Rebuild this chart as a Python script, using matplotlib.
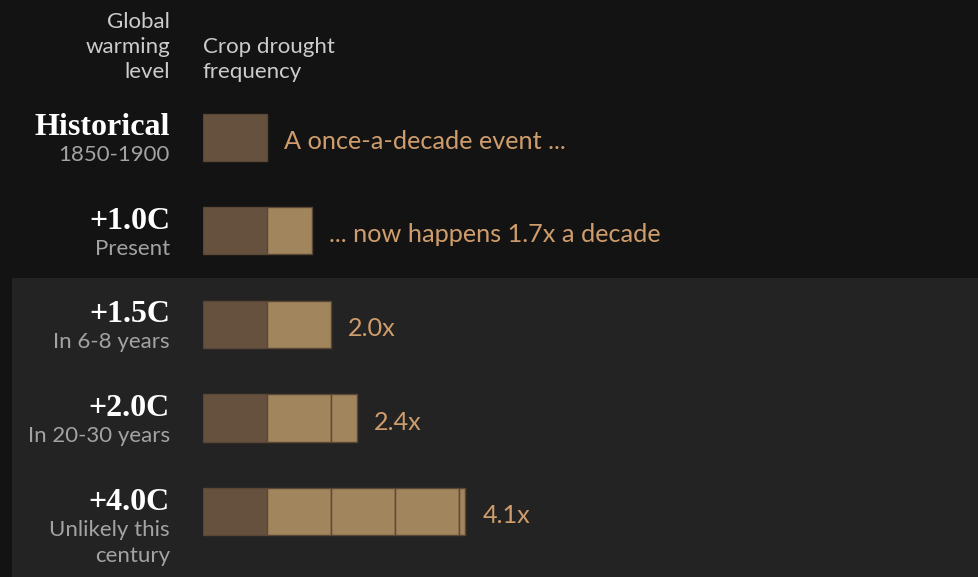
import matplotlib.pyplot as plt
from matplotlib.patches import Rectangle

# data
levels = ['Historical', '+1.0C', '+1.5C', '+2.0C', '+4.0C']
when = ['1850-1900', 'Present', 'In 6-8 years', 'In 20-30 years', 'Unlikely this\ncentury']
freq = [1.0, 1.7, 2.0, 2.4, 4.1]
notes = ['A once-a-decade event ...', '... now happens 1.7x a decade', '2.0x', '2.4x', '4.1x']

W, H = 979, 577
DARK_BG = '#131313'
PANEL_BG = '#232323'
BASE = '#66513f'
EXTRA = '#a1855d'
EDGE = '#5a4735'
NOTE = '#cf9d6c'
SANS = ['Lato', 'DejaVu Sans']
SERIF = ['Liberation Serif', 'DejaVu Serif']
PT = 72 / 100  # pixels -> points

fig = plt.figure(figsize=(W / 100, H / 100), dpi=100, facecolor=DARK_BG)
# lighter panel behind the future rows
fig.patches.append(Rectangle((12 / W, 0), 1, (H - 278) / H, transform=fig.transFigure,
                             facecolor=PANEL_BG, edgecolor='none', zorder=-1))

# bar axes: x in "times a decade", 64 px per unit, starting at x=203 px
unit = 64
row = 93.5
top = 137.5 - row / 2
ax = fig.add_axes([203 / W, (H - top - row * 5) / H, (W - 203) / W, row * 5 / H])
ax.set_zorder(1)
ax.set_xlim(0, (W - 203) / unit)
ax.set_ylim(4.5, -0.5)
ax.axis('off')
ax.patch.set_alpha(0)

bh = 47 / row
for i, v in enumerate(freq):
    ax.barh(i, min(v, 1), left=0, height=bh, color=BASE, edgecolor=EDGE, linewidth=1)
    k = 1
    while k < v:
        ax.barh(i, min(1, v - k), left=k, height=bh, color=EXTRA, edgecolor=EDGE, linewidth=1)
        k += 1
    ax.annotate(notes[i], xy=(v, i), xytext=(17 * PT, -4 * PT), textcoords='offset points',
                ha='left', va='center', color=NOTE, fontsize=18.2, family=SANS)
    ax.annotate(levels[i], xy=(0, i), xytext=(-33 * PT, 2 * PT), textcoords='offset points',
                ha='right', va='baseline', color='white', fontsize=23, fontweight='bold',
                family=SERIF, annotation_clip=False)
    for j, line in enumerate(when[i].split('\n')):
        ax.annotate(line, xy=(0, i), xytext=(-33 * PT, -(24 + 26 * j) * PT),
                    textcoords='offset points', ha='right', va='baseline',
                    color='#a3a3a3', fontsize=16, family=SANS, annotation_clip=False)

# column headers
for j, line in enumerate(['Global', 'warming', 'level']):
    fig.text(170 / W, 1 - (28 + 25 * j) / H, line, ha='right', va='baseline',
             color='#cccccc', fontsize=16, family=SANS)
for j, line in enumerate(['Crop drought', 'frequency']):
    fig.text(203 / W, 1 - (53 + 25 * j) / H, line, ha='left', va='baseline',
             color='#cccccc', fontsize=16, family=SANS)

fig.savefig('out.png', dpi=100, facecolor=DARK_BG)
